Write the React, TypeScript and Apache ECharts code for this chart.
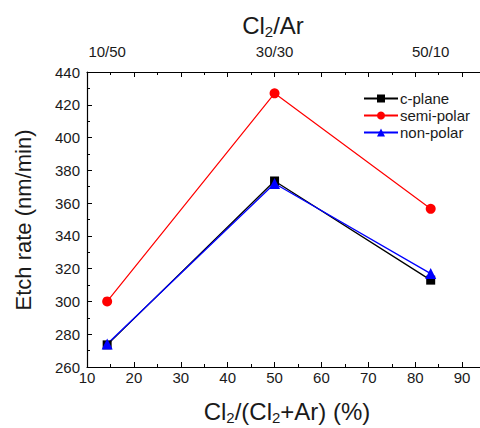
import React, { useEffect, useRef } from "react";
import * as echarts from "echarts";

const xPercent = [14.3, 50, 83.3];
const topLabels = ["10/50", "30/30", "50/10"];
const cPlane = [273.5, 373.5, 313];
const semiPolar = [300, 427, 356.5];
const nonPolar = [274, 372, 317];
const seriesNames = ["c-plane", "semi-polar", "non-polar"];

const FONT = "Liberation Sans, Arial, sans-serif";
const TXT = "#1a1a1a";

function pts(vals: number[]) {
  return vals.map((v, i) => [xPercent[i], v]);
}

const axisCommon = {
  type: "value" as const,
  axisLine: { show: true, onZero: false, lineStyle: { color: "#000", width: 1.2 } },
  axisTick: { show: true, inside: true, length: 5, lineStyle: { color: "#000", width: 1 } },
  minorTick: { show: true, splitNumber: 2, length: 3, lineStyle: { color: "#000", width: 1 } },
  splitLine: { show: false },
  minorSplitLine: { show: false },
};

export default function App() {
  const ref = useRef<HTMLDivElement>(null);
  useEffect(() => {
    if (!ref.current) return;
    const chart = echarts.init(ref.current, null, { renderer: "svg" });
    chart.setOption({
      animation: false,
      backgroundColor: "#ffffff",
      textStyle: { fontFamily: FONT },
      grid: { left: 87, top: 72, bottom: 61, right: 11 },
      legend: {
        data: seriesNames,
        orient: "vertical",
        left: 358,
        top: 86,
        itemWidth: 34,
        itemHeight: 10,
        itemGap: 2,
        textStyle: { fontFamily: FONT, fontSize: 15, color: TXT, padding: [0, 0, 0, -3] },
      },
      xAxis: [
        {
          ...axisCommon,
          position: "bottom",
          min: 10,
          max: 100,
          interval: 10,
          axisLabel: { fontSize: 15, color: TXT, margin: 3, showMaxLabel: false, fontFamily: FONT },
        },
        {
          ...axisCommon,
          position: "top",
          min: 10,
          max: 100,
          interval: 10,
          axisLabel: {
            fontSize: 15,
            color: TXT,
            margin: 13,
            fontFamily: FONT,
            customValues: xPercent,
            formatter: (v: number) => {
              const i = xPercent.findIndex((p) => Math.abs(p - v) < 0.01);
              return i >= 0 ? topLabels[i] : "";
            },
          },
        },
      ],
      yAxis: [
        {
          ...axisCommon,
          position: "left",
          min: 260,
          max: 440,
          interval: 20,
          axisLabel: { fontSize: 15, color: TXT, margin: 7, fontFamily: FONT },
        },
        {
          ...axisCommon,
          position: "right",
          min: 260,
          max: 440,
          interval: 20,
          axisLabel: { show: false },
        },
      ],
      graphic: [
        {
          type: "text",
          x: 273,
          y: 25,
          style: {
            text: "{a|Cl}{s|2}{a|/Ar}",
            align: "center",
            verticalAlign: "middle",
            rich: {
              a: { fontSize: 24, fontFamily: FONT, fill: TXT },
              s: { fontSize: 15, fontFamily: FONT, fill: TXT, padding: [13, 0, 0, 0] },
            },
          },
        },
        {
          type: "text",
          x: 287,
          y: 411,
          style: {
            text: "{a|Cl}{s|2}{a|/(Cl}{s|2}{a|+Ar) (%)}",
            align: "center",
            verticalAlign: "middle",
            rich: {
              a: { fontSize: 24, fontFamily: FONT, fill: TXT },
              s: { fontSize: 15, fontFamily: FONT, fill: TXT, padding: [13, 0, 0, 0] },
            },
          },
        },
        {
          type: "text",
          x: 23,
          y: 220,
          rotation: Math.PI / 2,
          style: {
            text: "Etch rate (nm/min)",
            align: "center",
            verticalAlign: "middle",
            fontSize: 22,
            fontFamily: FONT,
            fill: TXT,
          },
        },
      ],
      series: [
        {
          name: seriesNames[0],
          type: "line",
          xAxisIndex: 0,
          yAxisIndex: 0,
          data: pts(cPlane),
          symbol: "rect",
          symbolSize: 9,
          color: "#000000",
          lineStyle: { width: 1.3, color: "#000000" },
          itemStyle: { color: "#000000" },
        },
        {
          name: seriesNames[1],
          type: "line",
          xAxisIndex: 0,
          yAxisIndex: 0,
          data: pts(semiPolar),
          symbol: "circle",
          symbolSize: 10,
          color: "#ff0000",
          lineStyle: { width: 1.2, color: "#ff0000" },
          itemStyle: { color: "#ff0000" },
        },
        {
          name: seriesNames[2],
          type: "line",
          xAxisIndex: 0,
          yAxisIndex: 0,
          data: pts(nonPolar),
          symbol: "triangle",
          symbolSize: 11,
          color: "#0000ff",
          lineStyle: { width: 1.3, color: "#0000ff" },
          itemStyle: { color: "#0000ff" },
        },
      ],
    });
    return () => chart.dispose();
  }, []);
  return (
    <div style={{ position: "absolute", left: 0, top: 0, width: 480, height: 428, overflow: "hidden" }}>
      <div ref={ref} style={{ width: 520, height: 428 }} />
    </div>
  );
}
